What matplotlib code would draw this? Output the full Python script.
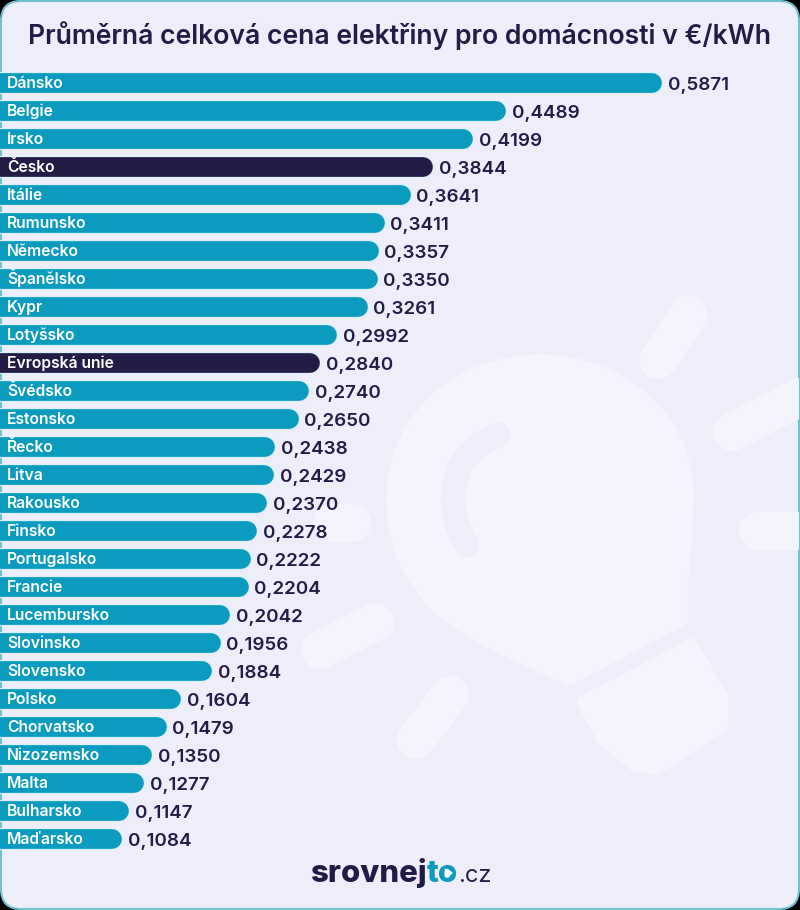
import matplotlib
matplotlib.use("Agg")
import matplotlib.pyplot as plt
from matplotlib.patches import Polygon, PathPatch, FancyBboxPatch, RegularPolygon
from matplotlib.path import Path

countries = ["Dánsko", "Belgie", "Irsko", "Česko", "Itálie", "Rumunsko", "Německo", "Španělsko", "Kypr",
             "Lotyšsko", "Evropská unie", "Švédsko", "Estonsko", "Řecko", "Litva", "Rakousko", "Finsko",
             "Portugalsko", "Francie", "Lucembursko", "Slovinsko", "Slovensko", "Polsko", "Chorvatsko",
             "Nizozemsko", "Malta", "Bulharsko", "Maďarsko"]
prices = [0.5871, 0.4489, 0.4199, 0.3844, 0.3641, 0.3411, 0.3357, 0.3350, 0.3261, 0.2992, 0.2840, 0.2740,
          0.2650, 0.2438, 0.2429, 0.2370, 0.2278, 0.2222, 0.2204, 0.2042, 0.1956, 0.1884, 0.1604, 0.1479,
          0.1350, 0.1277, 0.1147, 0.1084]
highlighted = ["Česko", "Evropská unie"]

TEAL = "#0a9bbf"
DARK = "#221c46"
BG = "#eeeefb"
BULB = "#f4f4fd"
FONT = "Inter"

fig = plt.figure(figsize=(8, 9.1), dpi=100, facecolor="black")

# pixel axes for the card and the light bulb behind the bars
bg = fig.add_axes([0, 0, 1, 1])
bg.set_xlim(0, 800)
bg.set_ylim(910, 0)
bg.axis("off")

card = FancyBboxPatch((1, 1), 798, 908, boxstyle="round,pad=0,rounding_size=20",
                      facecolor=BG, edgecolor="#6fc3d0", linewidth=1.5)
bg.add_patch(card)

def ray(x1, y1, x2, y2, w=38):
    line, = bg.plot([x1, x2], [y1, y2], color=BULB, lw=w * 0.72, solid_capstyle="round")
    line.set_clip_path(card)

ray(688, 315, 658, 360)
ray(732, 432, 810, 392)
ray(758, 531, 810, 531)
ray(352, 523, 332, 523)
ray(375, 622, 320, 650)
ray(450, 695, 416, 740)

# bulb outline
C = Path.CURVE4
L = Path.LINETO
bulb = Path([(387, 500), (387, 415), (455, 355), (540, 355),
             (625, 355), (693, 415), (693, 497),
             (693, 540), (684, 585), (688, 623),
             (570, 685),
             (500, 655), (470, 640), (440, 617),
             (405, 585), (387, 545), (387, 500)],
            [Path.MOVETO, C, C, C, C, C, C, C, C, C, L, C, C, C, C, C, C])
bg.add_patch(PathPatch(bulb, facecolor=BULB, edgecolor=BULB, lw=1))
bg.add_patch(Polygon([(582, 702), (692, 644), (723, 698), (723, 725), (657, 769), (633, 765), (604, 741)],
                     facecolor=BULB, edgecolor=BULB, lw=8, joinstyle="round"))
arc = Path([(498, 435), (445, 455), (445, 510), (467, 545)], [Path.MOVETO, C, C, C])
bg.add_patch(PathPatch(arc, facecolor="none", edgecolor=BG, lw=18, capstyle="round"))

# bars, 1127.6 px per euro, 28 px per row, first row centred at y=83
ax = fig.add_axes([0, 0, 1, 1])
ax.patch.set_alpha(0)
ax.set_xlim(0, 800 / 1127.6)
ax.set_ylim((910 - 83) / 28, -83 / 28)
ax.axis("off")

cap = 10 / 1127.6
for i, (name, val) in enumerate(zip(countries, prices)):
    col = DARK if name in highlighted else TEAL
    ax.plot([-cap, val - cap], [i, i], color="#d8f2fa", lw=15.8, solid_capstyle="round")
    ax.plot([-cap, val - cap], [i, i], color=col, lw=14.2, solid_capstyle="round")
    ax.text(0.006, i + 0.17, name, color="white", fontsize=11.3, fontweight="semibold", family=FONT, va="baseline")
    ax.text(val + 0.005, i + 0.26, f"{val:.4f}".replace(".", ","), color=DARK, fontsize=13.5, fontweight="semibold",
            family=FONT, va="baseline")

fig.text(400 / 800, 1 - 44 / 910, "Průměrná celková cena elektřiny pro domácnosti v €/kWh", color=DARK,
         fontsize=19.15, fontweight="semibold", family=FONT, ha="center", va="baseline")

# logo
renderer = fig.canvas.get_renderer()
x = 310
for part, col, size, weight in [("srovnej", DARK, 22.4, "heavy"), ("to", TEAL, 22.4, "heavy"), (".cz", DARK, 17, "normal")]:
    t = bg.text(x, 882, part, color=col, fontsize=size, fontweight=weight, family=FONT, va="baseline")
    box = t.get_window_extent(renderer)
    if part == "to":
        bg.add_patch(RegularPolygon((x + box.width - 10, 873), 3, radius=4.5, orientation=-3.14159 / 2, color="white", zorder=5))
    x += box.width

fig.savefig("out.png", dpi=100, facecolor=fig.get_facecolor())
